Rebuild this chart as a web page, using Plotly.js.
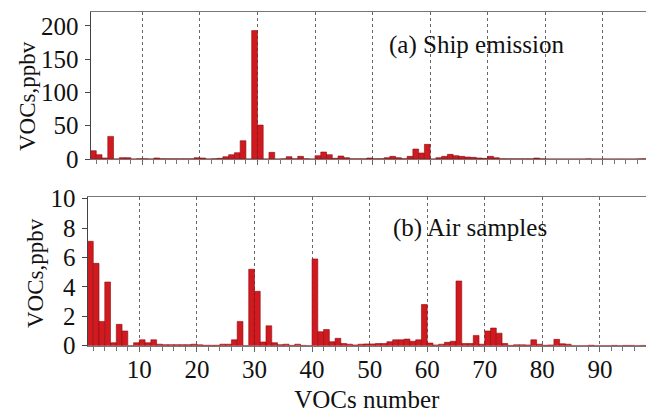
<!DOCTYPE html>
<html><head><meta charset="utf-8">
<script src="https://cdn.plot.ly/plotly-3.0.1.min.js"></script>
<style>html,body{margin:0;padding:0;background:#fff}#chart{width:646px;height:413px}</style>
</head><body><div id="chart"></div>
<script>
// VOC species number (1..97)
const vocNumber = [1,2,3,4,5,6,7,8,9,10,11,12,13,14,15,16,17,18,19,20,
  21,22,23,24,25,26,27,28,29,30,31,32,33,34,35,36,37,38,39,40,
  41,42,43,44,45,46,47,48,49,50,51,52,53,54,55,56,57,58,59,60,
  61,62,63,64,65,66,67,68,69,70,71,72,73,74,75,76,77,78,79,80,
  81,82,83,84,85,86,87,88,89,90,91,92,93,94,95,96,97];

// (a) Ship emission, ppbv
const shipEmission = [12.5,6.5,1.5,34,0,2,2,0,0.5,0.5,
  0,1.5,0.5,0.3,0.3,0.3,0.3,0.3,2,1.5,
  0,0.5,1,3.5,6.5,9.5,27.5,0,193,51,
  0,10,0,0.3,3.5,0.3,4,0.5,0,5,
  10.5,6.5,1,4.5,2,0.3,0.3,0.3,1.5,0.5,
  0.5,2,4,2,0.5,4,15,9,22,0,
  2,4,7,5,4,3,2.5,1.5,1,4,
  2,0.5,0.3,0.3,0.3,0.3,0.3,1.5,0.3,0,
  0,0,0,0,0,0,0.2,0,0,0,
  0,0,0,0,0,0.2,0.5];

// (b) Air samples, ppbv
const airSamples = [7.1,5.6,1.65,4.33,0.2,1.45,1.0,0,0.2,0.4,
  0.2,0.4,0.1,0.07,0.07,0.07,0.07,0.07,0.1,0.06,
  0.03,0.03,0.03,0.1,0.1,0.4,1.65,0,5.2,3.7,
  0.25,1.35,0.2,0.07,0.1,0.02,0.1,0.02,0,5.9,
  0.95,1.1,0.27,0.5,0.15,0.1,0.05,0.1,0.12,0.12,
  0.15,0.15,0.27,0.4,0.4,0.45,0.3,0.4,2.8,0.18,
  0.05,0.1,0.23,0.3,4.4,0.15,0.15,0.7,0.1,1.0,
  1.2,0.85,0.15,0.02,0.06,0.06,0.05,0.4,0.1,0.03,
  0.05,0.43,0.13,0.1,0,0,0,0.03,0,0,
  0,0.02,0,0.02,0.02,0,0.02];

const panelLabels = ['(a) Ship emission', '(b) Air samples'];
const yTitle = 'VOCs,ppbv';
const xTitle = 'VOCs number';

const FONT = '"Liberation Serif", "Times New Roman", serif';
const barStyle = {color:'#d01a20', line:{color:'#8a0d10', width:0.6}};

const traces = [
  {type:'bar', x:vocNumber, y:shipEmission, xaxis:'x', yaxis:'y', width:1, offset:0, marker:barStyle, hoverinfo:'x+y'},
  {type:'bar', x:vocNumber, y:airSamples, xaxis:'x2', yaxis:'y2', width:1, offset:0, marker:barStyle, hoverinfo:'x+y'}
];

function xAxis(domain, range, labels, anchor) {
  return {
    domain: domain, range: range, anchor: anchor, automargin:false,
    tick0: 0, dtick: 10, ticks:'outside', ticklen:5, tickwidth:1, tickcolor:'#666',
    showticklabels: labels, tickfont:{family:FONT, size:25, color:'#111'},
    ticklabelstandoff: -4,
    showgrid:true, gridcolor:'#666', griddash:'dot', gridwidth:1,
    showline:true, linecolor:'#777', linewidth:1, mirror:true, zeroline:false,
    minor:{tick0:0, dtick:2, ticks:'outside', ticklen:4, tickcolor:'#777', showgrid:false}
  };
}
function yAxis(domain, range, dtick, anchor) {
  return {
    domain: domain, range: range, anchor: anchor, automargin:false,
    tick0:0, dtick:dtick, ticks:'outside', ticklen:5, tickwidth:1, tickcolor:'#444',
    tickfont:{family:FONT, size:25, color:'#111'}, ticklabelstandoff: 1,
    showgrid:false, zeroline:false, showline:true, linecolor:'#444', linewidth:1
  };
}

const titleFont = {family:FONT, size:23, color:'#111'};

const layout = {
  width:646, height:413,
  margin:{l:0, r:0, t:0, b:0},
  paper_bgcolor:'#fff', plot_bgcolor:'#fff',
  showlegend:false, bargap:0,
  font:{family:FONT, color:'#111'},
  xaxis: xAxis([90.5/646, 1], [1, 97.5], false, 'y'),
  yaxis: yAxis([0.615, 0.971], [0, 221], 50, 'x'),
  xaxis2: Object.assign(xAxis([87.5/646, 1], [1, 98], true, 'y2'),
    {title:{text:xTitle, font:{family:FONT, size:25, color:'#111'}, standoff:8}}),
  yaxis2: yAxis([0.163, 0.5225], [0, 10.1], 2, 'x2'),
  annotations:[
    {text:panelLabels[0], xref:'paper', yref:'paper', x:0.738, y:0.891, showarrow:false,
     font:{family:FONT, size:25, color:'#111'}, xanchor:'center', yanchor:'middle'},
    {text:panelLabels[1], xref:'paper', yref:'paper', x:0.728, y:0.448, showarrow:false,
     font:{family:FONT, size:25, color:'#111'}, xanchor:'center', yanchor:'middle'},
    {text:yTitle, xref:'paper', yref:'paper', x:27/646, y:(413-96)/413, textangle:-90, showarrow:false,
     font:titleFont, xanchor:'center', yanchor:'middle'},
    {text:yTitle, xref:'paper', yref:'paper', x:35/646, y:(413-273)/413, textangle:-90, showarrow:false,
     font:titleFont, xanchor:'center', yanchor:'middle'}
  ]
};

Plotly.newPlot('chart', traces, layout, {displayModeBar:false, staticPlot:true});
</script>
</body></html>
